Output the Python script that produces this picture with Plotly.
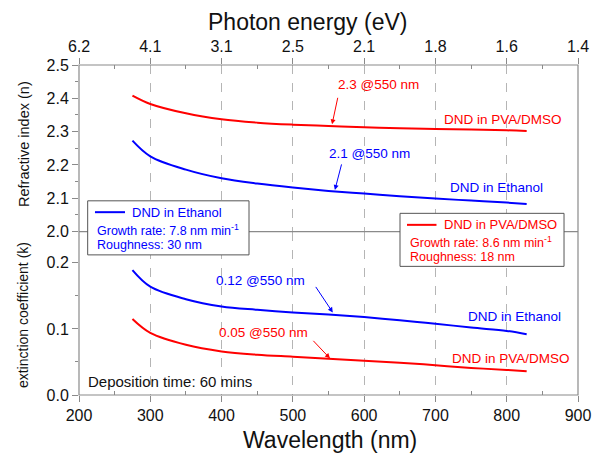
import plotly.graph_objects as go

# ---------------- data ----------------
wavelength_nm = [275, 300, 350, 400, 450, 500, 550, 600, 650, 700, 750, 800, 828]
n_pva_dmso = [2.408, 2.383, 2.355, 2.337, 2.327, 2.321, 2.317, 2.313, 2.310, 2.308, 2.306, 2.304, 2.302]
n_ethanol = [2.273, 2.226, 2.186, 2.160, 2.144, 2.132, 2.122, 2.114, 2.106, 2.099, 2.093, 2.087, 2.083]
k_ethanol = [0.189, 0.164, 0.145, 0.134, 0.129, 0.125, 0.122, 0.118, 0.113, 0.108, 0.102, 0.097, 0.092]
k_pva_dmso = [0.115, 0.094, 0.076, 0.066, 0.061, 0.058, 0.055, 0.052, 0.049, 0.045, 0.041, 0.038, 0.036]

wl_ticks = [200, 300, 400, 500, 600, 700, 800, 900]
energy_tick_labels = ["6.2", "4.1", "3.1", "2.5", "2.1", "1.8", "1.6", "1.4"]
wl_minor = [250, 350, 450, 550, 650, 750, 850]

RED = "#ff0000"
BLUE = "#0000ff"
GRAY = "#8a8a8a"
FONT = "Liberation Sans, Arial, sans-serif"

split = 0.4953

fig = go.Figure()
fig.add_trace(go.Scatter(x=wavelength_nm, y=n_pva_dmso, mode="lines", line=dict(color=RED, width=2, shape="spline"),
                         xaxis="x2", yaxis="y2"))
fig.add_trace(go.Scatter(x=wavelength_nm, y=n_ethanol, mode="lines", line=dict(color=BLUE, width=2, shape="spline"),
                         xaxis="x2", yaxis="y2"))
fig.add_trace(go.Scatter(x=wavelength_nm, y=k_ethanol, mode="lines", line=dict(color=BLUE, width=2, shape="spline"),
                         xaxis="x", yaxis="y"))
fig.add_trace(go.Scatter(x=wavelength_nm, y=k_pva_dmso, mode="lines", line=dict(color=RED, width=2, shape="spline"),
                         xaxis="x", yaxis="y"))

tickfont = dict(family=FONT, size=16, color="#111")

# the page body adds an 8 px offset, so the figure is 8 px smaller and margins shifted
fig.update_layout(
    width=595, height=449,
    margin=dict(l=71, r=25, t=57, b=62),
    paper_bgcolor="white", plot_bgcolor="white",
    showlegend=False,
    font=dict(family=FONT),
    xaxis=dict(domain=[0, 1], anchor="y", range=[200, 900], tickmode="array", tickvals=wl_ticks,
               ticks="outside", ticklen=6, tickcolor=GRAY, tickfont=tickfont,
               showgrid=True, gridcolor="#b5b5b5", griddash="dash", gridwidth=1,
               showline=False, zeroline=False,
               minor=dict(tickvals=wl_minor, ticks="inside", ticklen=4, tickcolor=GRAY, showgrid=False)),
    xaxis2=dict(domain=[0, 1], anchor="y2", side="top", matches="x", range=[200, 900], tickmode="array",
                tickvals=wl_ticks, ticktext=energy_tick_labels,
                ticks="outside", ticklen=6, tickcolor=GRAY, tickfont=tickfont,
                showgrid=True, gridcolor="#b5b5b5", griddash="dash", gridwidth=1,
                showline=False, zeroline=False,
                minor=dict(tickvals=wl_minor, ticks="inside", ticklen=4, tickcolor=GRAY, showgrid=False)),
    yaxis=dict(domain=[0, split], anchor="x", range=[0, 0.2474], tickmode="array", tickvals=[0, 0.1, 0.2],
               tickformat=".1f", ticks="outside", ticklen=6, tickcolor=GRAY, tickfont=tickfont,
               showgrid=False, zeroline=False, showline=False,
               minor=dict(tickvals=[0.05, 0.15], ticks="outside", ticklen=3, tickcolor=GRAY)),
    yaxis2=dict(domain=[split, 1], anchor="x2", range=[2.0, 2.5], tickmode="array",
                tickvals=[2.0, 2.1, 2.2, 2.3, 2.4, 2.5], tickformat=".1f",
                ticks="outside", ticklen=6, tickcolor=GRAY, tickfont=tickfont,
                showgrid=False, zeroline=False, showline=False,
                minor=dict(tickvals=[2.05, 2.15, 2.25, 2.35, 2.45], ticks="outside", ticklen=3, tickcolor=GRAY)),
    yaxis3=dict(overlaying="y", anchor="x", side="right", range=[0, 0.2474], tickmode="array",
                tickvals=[0.05, 0.1, 0.15, 0.2], ticks="inside", ticklen=5, tickcolor=GRAY,
                showticklabels=False, showgrid=False, zeroline=False, showline=False),
    yaxis4=dict(overlaying="y2", anchor="x2", side="right", range=[2.0, 2.5], tickmode="array",
                tickvals=[2.05, 2.1, 2.15, 2.2, 2.25, 2.3, 2.35, 2.4, 2.45], ticks="inside", ticklen=5,
                tickcolor=GRAY, showticklabels=False, showgrid=False, zeroline=False, showline=False),
)

shapes = [
    dict(type="rect", xref="paper", yref="paper", x0=0, x1=1, y0=0, y1=1, line=dict(color=GRAY, width=1.2)),
    dict(type="line", xref="paper", yref="paper", x0=0, x1=1, y0=split, y1=split, line=dict(color=GRAY, width=1.2)),
    # legend boxes
    dict(type="rect", xref="paper", yref="paper", x0=0.0174, x1=0.3407, y0=0.4246, y1=0.5884,
         line=dict(color="#555", width=1), fillcolor="white", layer="above"),
    dict(type="line", xref="paper", yref="paper", x0=0.032, x1=0.0922, y0=0.554, y1=0.554,
         line=dict(color=BLUE, width=2), layer="above"),
    dict(type="rect", xref="paper", yref="paper", x0=0.6433, x1=0.972, y0=0.3898, y1=0.5505,
         line=dict(color="#555", width=1), fillcolor="white", layer="above"),
    dict(type="line", xref="paper", yref="paper", x0=0.6573, x1=0.7164, y0=0.5156, y1=0.5156,
         line=dict(color=RED, width=2), layer="above"),
]
fig.update_layout(shapes=shapes)

ann = []
def txt(x, y, s, color, size=13.5, xref="x", yref="y", xanchor="center", **kw):
    ann.append(dict(x=x, y=y, text=s, xref=xref, yref=yref, showarrow=False, xanchor=xanchor,
                    yanchor="middle", font=dict(family=FONT, size=size, color=color), **kw))

def arrow(x, y, ax, ay, color, xref="x", yref="y"):
    ann.append(dict(x=x, y=y, ax=ax, ay=ay, text="", xref=xref, yref=yref, showarrow=True,
                    arrowhead=2, arrowsize=1, arrowwidth=1, arrowcolor=color))

# top panel labels
txt(620.8, 2.441, "2.3 @550 nm", RED, xref="x2", yref="y2")
arrow(555, 2.322, 6, -28, RED, xref="x2", yref="y2")
txt(794.7, 2.336, "DND in PVA/DMSO", RED, xref="x2", yref="y2")
txt(608, 2.234, "2.1 @550 nm", BLUE, xref="x2", yref="y2")
arrow(559, 2.125, 7, -27, BLUE, xref="x2", yref="y2")
txt(786, 2.132, "DND in Ethanol", BLUE, xref="x2", yref="y2")

# bottom panel labels
txt(455, 0.1732, "0.12 @550 nm", BLUE)
arrow(556, 0.125, -18, -27, BLUE)
txt(459.5, 0.0939, "0.05 @550 nm", RED)
arrow(552, 0.0555, -18, -19, RED)
txt(811.5, 0.1186, "DND in Ethanol", BLUE)
txt(806, 0.0556, "DND in PVA/DMSO", RED)
txt(210.5, 0.0202, "Deposition time: 60 mins", "#111", size=15, xanchor="left")

# legend box texts
txt(0.1014, 0.554, "DND in Ethanol", BLUE, size=13, xref="paper", yref="paper", xanchor="left")
txt(0.0329, 0.5005, "Growth rate: 7.8 nm min<sup>-1</sup>", BLUE, size=12.5, xref="paper", yref="paper", xanchor="left")
txt(0.0329, 0.455, "Roughness: 30 nm", BLUE, size=12.5, xref="paper", yref="paper", xanchor="left")
txt(0.7265, 0.5156, "DND in PVA/DMSO", RED, size=13, xref="paper", yref="paper", xanchor="left")
txt(0.6587, 0.4632, "Growth rate: 8.6 nm min<sup>-1</sup>", RED, size=12.5, xref="paper", yref="paper", xanchor="left")
txt(0.6587, 0.4177, "Roughness: 18 nm", RED, size=12.5, xref="paper", yref="paper", xanchor="left")

# axis titles
txt(0.503, -0.1365, "Wavelength (nm)", "#111", size=23, xref="paper", yref="paper")
txt(0.457, 1.131, "Photon energy (eV)", "#111", size=23, xref="paper", yref="paper")
txt(-0.110, 0.761, "Refractive index (n)", "#111", size=14.5, xref="paper", yref="paper", textangle=-90)
txt(-0.112, 0.2426, "extinction coefficient (k)", "#111", size=14, xref="paper", yref="paper", textangle=-90)

fig.update_layout(annotations=ann)
fig.write_html("out.html")
